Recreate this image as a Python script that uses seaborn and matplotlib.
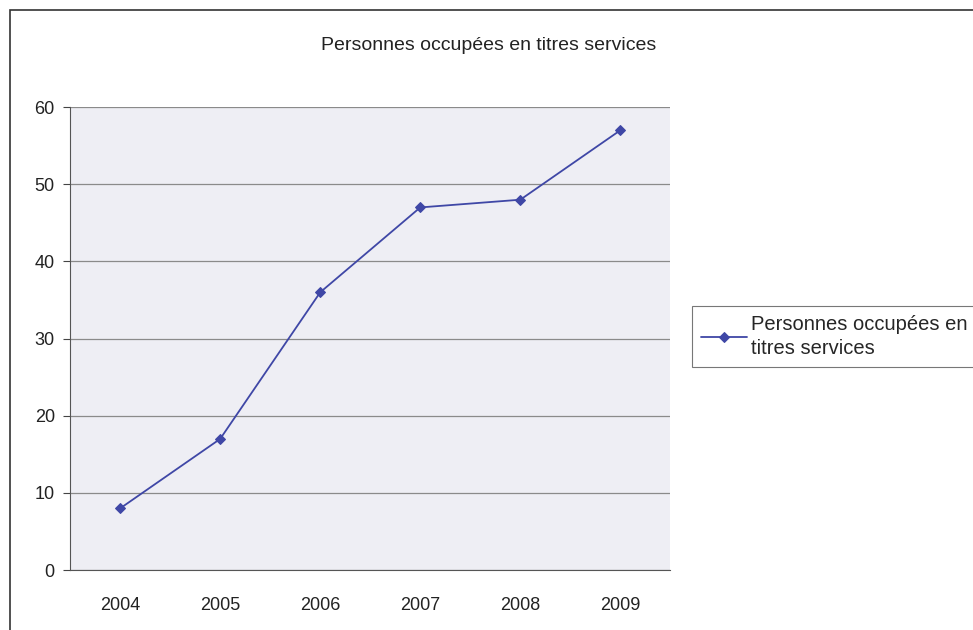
import matplotlib
matplotlib.use("Agg")
import matplotlib.pyplot as plt
import matplotlib.patches as patches
import seaborn as sns
import pandas as pd

# Data
years = ['2004', '2005', '2006', '2007', '2008', '2009']
persons = [8, 17, 36, 47, 48, 57]
series_name = 'Personnes occupées en\ntitres services'
title = 'Personnes occupées en titres services'

df = pd.DataFrame({'year': years, 'persons': persons})

sns.set_style('white')
plt.rcParams['font.family'] = ['Liberation Sans', 'DejaVu Sans']

fig = plt.figure(figsize=(9.73, 6.3), dpi=100)
ax = fig.add_axes([0.072, 0.095, 0.617, 0.735])
ax.set_facecolor('#eeeef4')

line_color = '#3f47a6'
sns.lineplot(data=df, x='year', y='persons', ax=ax, color=line_color,
             marker='D', markersize=5, markeredgecolor=line_color,
             linewidth=1.3, label=series_name, legend=False, sort=False)

# Axes styling, Excel-like
ax.set_ylim(0, 60)
ax.set_yticks(range(0, 61, 10))
ax.set_xlim(-0.5, len(years) - 0.5)
ax.set_xticks(range(len(years)))
ax.set_xticklabels(years)
ax.set_xticks([i - 0.5 for i in range(len(years) + 1)], minor=True)
ax.tick_params(axis='x', which='major', length=0, pad=19, labelsize=13, colors='#222222')
ax.tick_params(axis='x', which='minor', length=5, color='#444444', direction='out')
ax.tick_params(axis='y', length=5, color='#444444', labelsize=13, colors='#222222', left=True, pad=6)
ax.yaxis.grid(True, color='#8a8a8a', linewidth=0.9)
ax.set_axisbelow(True)
for side in ['top', 'right']:
    ax.spines[side].set_visible(False)
ax.spines['left'].set_color('#555555')
ax.spines['bottom'].set_color('#555555')
ax.set_xlabel('')
ax.set_ylabel('')

# Chart title
fig.text(0.502, 0.928, title, ha='center', va='center', fontsize=14, color='#222222')

# Legend on the right
handles, labels = ax.get_legend_handles_labels()
leg = fig.legend(handles, labels, loc='upper left', bbox_to_anchor=(0.711, 0.515),
                 frameon=True, fancybox=False, fontsize=14.5, handlelength=2.3,
                 borderpad=0.45, handletextpad=0.2, borderaxespad=0)
for t in leg.get_texts():
    t.set_linespacing(1.35)
leg.get_frame().set_edgecolor('#555555')
leg.get_frame().set_linewidth(0.8)

# Outer chart border
fig.patches.append(patches.Rectangle((10 / 973, -0.1), 1.2, 1.084,
                                     transform=fig.transFigure, fill=False,
                                     edgecolor='#333333', linewidth=1.2))

fig.savefig('out.png', dpi=100)
